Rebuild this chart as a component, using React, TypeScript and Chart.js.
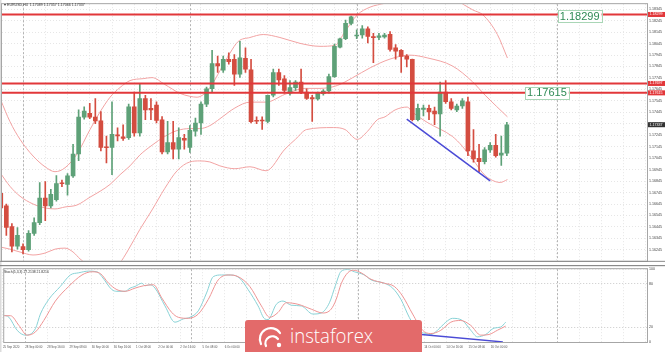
import React, { useEffect, useRef } from 'react';
import { Chart, registerables } from 'chart.js';

Chart.register(...registerables);
Chart.defaults.font.family = '"Liberation Sans", Arial, sans-serif';

// ---------------- data ----------------
const titleText = 'EURUSD,H4  1.17089 1.17357 1.17066 1.17337';
const stochTitle = 'Stoch(5,3,3) 27.2138 21.8216';

const dateLabels = [
  '25 Sep 2020', '28 Sep 00:00', '28 Sep 16:00', '29 Sep 08:00', '30 Sep 00:00', '30 Sep 16:00',
  '1 Oct 08:00', '2 Oct 00:00', '2 Oct 16:00', '5 Oct 08:00', '6 Oct 00:00', '6 Oct 16:00',
  '7 Oct 08:00', '8 Oct 00:00', '8 Oct 16:00', '9 Oct 08:00', '12 Oct 00:00', '12 Oct 16:00',
  '13 Oct 08:00', '14 Oct 00:00', '14 Oct 16:00', '15 Oct 08:00', '16 Oct 00:00',
];
const labelBars = [0, 4, 8, 12, 16, 20, 24, 28, 32, 36, 40, 44, 48, 52, 56, 60, 64, 68, 72, 76, 80, 84, 88];
const gridBars = [0, 4, 8, 12, 16, 20, 24, 28, 32, 36, 40, 44, 48, 52, 56, 60, 64, 68, 72, 76, 80, 84, 88, 92, 96, 100, 104, 108, 112, 116];
const weekSeparators = [4, 34, 64, 100];

const opens = [
  1.16739, 1.16628, 1.16448, 1.16277, 1.16273, 1.16247, 1.16388, 1.16482, 1.16696, 1.16628,
  1.16682, 1.16830, 1.16816, 1.16890, 1.17081, 1.17403, 1.17437, 1.17403, 1.17371, 1.17142,
  1.17138, 1.17248, 1.17232, 1.17224, 1.17494, 1.17266, 1.17566, 1.17480, 1.17508, 1.17380,
  1.17100, 1.17181, 1.17124, 1.17218, 1.17138, 1.17280, 1.17352, 1.17517, 1.17651, 1.17870,
  1.17814, 1.17908, 1.17908, 1.17779, 1.17916, 1.17816, 1.17376, 1.17377, 1.17366, 1.17594,
  1.17793, 1.17737, 1.17613, 1.17660, 1.17708, 1.17622, 1.17574, 1.17562, 1.17608, 1.17631,
  1.17756, 1.18013, 1.18087, 1.18221, 1.18111, 1.18121, 1.18173, 1.18107, 1.18098, 1.18103,
  1.18126, 1.18007, 1.17987, 1.17936, 1.17908, 1.17380, 1.17470, 1.17480, 1.17457, 1.17431,
  1.17622, 1.17537, 1.17466, 1.17500, 1.17537, 1.17109, 1.17044, 1.17015, 1.17118, 1.17158,
  1.17072, 1.17089,
];
const highs = [
  1.16764, 1.16645, 1.16474, 1.16440, 1.16298, 1.16414, 1.16525, 1.16833, 1.16841, 1.16773,
  1.16893, 1.16853, 1.16910, 1.17166, 1.17466, 1.17494, 1.17523, 1.17566, 1.17451, 1.17237,
  1.17537, 1.17309, 1.17337, 1.17517, 1.17622, 1.17694, 1.17594, 1.17566, 1.17537, 1.17408,
  1.17366, 1.17366, 1.17309, 1.17252, 1.17329, 1.17395, 1.17537, 1.17665, 1.17985, 1.17936,
  1.17936, 1.17964, 1.17950, 1.18064, 1.18007, 1.17908, 1.17406, 1.17406, 1.17596, 1.17822,
  1.17822, 1.17765, 1.17722, 1.17722, 1.17822, 1.17651, 1.17594, 1.17622, 1.17643, 1.17779,
  1.18041, 1.18092, 1.18250, 1.18286, 1.18164, 1.18201, 1.18192, 1.18135, 1.18135, 1.18135,
  1.18150, 1.18036, 1.17993, 1.17950, 1.17910, 1.17517, 1.17508, 1.17508, 1.17491, 1.17708,
  1.17722, 1.17566, 1.17517, 1.17566, 1.17579, 1.17295, 1.17166, 1.17138, 1.17181, 1.17252,
  1.17237, 1.17357,
];
const lows = [
  1.16585, 1.16371, 1.16226, 1.16251, 1.16209, 1.16234, 1.16371, 1.16465, 1.16499, 1.16611,
  1.16670, 1.16796, 1.16722, 1.16876, 1.17024, 1.17386, 1.17389, 1.17346, 1.17109, 1.17004,
  1.16901, 1.17195, 1.17200, 1.17209, 1.17237, 1.17237, 1.17380, 1.17380, 1.17352, 1.17081,
  1.17081, 1.17038, 1.17038, 1.17124, 1.17095, 1.17237, 1.17252, 1.17494, 1.17622, 1.17793,
  1.17793, 1.17865, 1.17679, 1.17750, 1.17793, 1.17352, 1.17346, 1.17295, 1.17352, 1.17579,
  1.17679, 1.17613, 1.17594, 1.17637, 1.17608, 1.17557, 1.17366, 1.17551, 1.17594, 1.17613,
  1.17750, 1.18007, 1.18079, 1.18207, 1.18087, 1.18092, 1.18050, 1.17879, 1.18079, 1.18092,
  1.17979, 1.17908, 1.17793, 1.17842, 1.17371, 1.17371, 1.17414, 1.17380, 1.17337, 1.17237,
  1.17523, 1.17466, 1.17451, 1.17480, 1.17066, 1.17010, 1.16927, 1.16995, 1.17095, 1.17053,
  1.16981, 1.17066,
];
const closes = [
  1.16610, 1.16440, 1.16277, 1.16371, 1.16247, 1.16388, 1.16482, 1.16696, 1.16628, 1.16730,
  1.16824, 1.16822, 1.16890, 1.17081, 1.17403, 1.17457, 1.17403, 1.17371, 1.17138, 1.17136,
  1.17252, 1.17239, 1.17218, 1.17494, 1.17266, 1.17566, 1.17466, 1.17466, 1.17374, 1.17100,
  1.17181, 1.17124, 1.17224, 1.17203, 1.17289, 1.17352, 1.17517, 1.17651, 1.17870, 1.17850,
  1.17908, 1.17887, 1.17779, 1.17921, 1.17822, 1.17363, 1.17367, 1.17369, 1.17594, 1.17793,
  1.17728, 1.17637, 1.17660, 1.17708, 1.17622, 1.17566, 1.17562, 1.17613, 1.17631, 1.17756,
  1.18021, 1.18087, 1.18221, 1.18278, 1.18120, 1.18173, 1.18107, 1.18097, 1.18113, 1.18120,
  1.17993, 1.17979, 1.17932, 1.17908, 1.17380, 1.17480, 1.17483, 1.17448, 1.17431, 1.17622,
  1.17537, 1.17480, 1.17500, 1.17545, 1.17109, 1.17038, 1.17015, 1.17118, 1.17158, 1.17066,
  1.17089, 1.17337,
];

const priceTicks = [
  1.18345, 1.18245, 1.18145, 1.18045, 1.17945, 1.17845, 1.17745, 1.17645, 1.17545, 1.17445, 1.17345,
  1.17245, 1.17145, 1.17045, 1.16945, 1.16845, 1.16745, 1.16645, 1.16545, 1.16445, 1.16345, 1.16245,
];
const priceMin = 1.16149;
const priceMax = 1.18389;

const hLines = [1.18299, 1.17697, 1.17615];
const hLineNotes = [
  { text: '1.18299', bar: 104.1, price: 1.18282 },
  { text: '1.17615', bar: 98.2, price: 1.17617 },
];

const bbUpper = [
  [0, 1.17551], [1.66, 1.17363], [3.46, 1.17209], [5.8, 1.17064], [7.96, 1.1697], [9.75, 1.16927],
  [11.55, 1.16961], [13.7, 1.17081], [16.05, 1.17295], [17.85, 1.17448], [19.65, 1.17577], [21.45, 1.17662],
  [23.24, 1.17722], [25.6, 1.17739], [27.2, 1.17748], [29.5, 1.17688], [32.2, 1.17611], [34.0, 1.17585],
  [35.3, 1.17577], [36.7, 1.17611], [38.0, 1.17688], [39.4, 1.17808], [41.2, 1.17961], [42.7, 1.18064],
  [44.8, 1.18098], [47.2, 1.18124], [50.2, 1.18098], [53.8, 1.18047], [57.4, 1.18021], [60.1, 1.1803],
  [61.9, 1.1815], [64.1, 1.18295], [66.4, 1.18363], [69.1, 1.18397], [71.8, 1.18432], [75.4, 1.18483],
  [79.0, 1.18474], [81.7, 1.18423], [83.1, 1.18389], [84.9, 1.18338], [86.7, 1.18295], [89.3, 1.18124],
  [91.1, 1.17919],
];
const bbMiddle = [
  [0, 1.1691], [1.66, 1.16799], [3.46, 1.16713], [5.8, 1.16645], [7.96, 1.16611], [9.75, 1.16602],
  [11.55, 1.16619], [13.7, 1.16636], [16.05, 1.16705], [17.85, 1.16756], [19.65, 1.16816], [21.45, 1.16901],
  [23.24, 1.16978], [25.0, 1.17072], [27.2, 1.17158], [29.5, 1.17235], [31.7, 1.17286], [34.0, 1.17303],
  [35.8, 1.17303], [37.6, 1.17329], [39.4, 1.17389], [42.1, 1.17483], [44.8, 1.17534], [47.7, 1.17534],
  [51.1, 1.17602], [54.7, 1.17654], [57.4, 1.17654], [60.5, 1.17679], [63.3, 1.17748], [66.4, 1.17833],
  [70.0, 1.1791], [73.6, 1.17944], [76.8, 1.17919], [81.2, 1.1785], [84.8, 1.17713], [87.1, 1.17594],
  [91.1, 1.17406],
];
const bbLower = [
  [0, 1.16269], [1.66, 1.16251], [3.46, 1.16226], [5.8, 1.162], [7.96, 1.16217], [9.75, 1.16251],
  [11.55, 1.1626], [13.0, 1.16226], [14.25, 1.16166], [16.05, 1.16098], [17.85, 1.16046], [19.65, 1.16046],
  [21.45, 1.16132], [22.7, 1.16226], [25.0, 1.16422], [27.2, 1.16593], [29.5, 1.16782], [31.7, 1.16935],
  [34.0, 1.17012], [35.8, 1.17021], [37.6, 1.17012], [39.4, 1.16978], [42.1, 1.16953], [44.8, 1.1697],
  [47.7, 1.16935], [51.1, 1.17124], [53.0, 1.1721], [55.0, 1.17295], [59.8, 1.17312], [61.9, 1.17295],
  [64.1, 1.17209], [65.9, 1.17277], [67.7, 1.1738], [69.1, 1.17406], [70.9, 1.17466], [73.1, 1.17491],
  [74.0, 1.17448], [76.8, 1.17354], [81.2, 1.17235], [83.0, 1.17149], [84.8, 1.17038], [87.1, 1.16893],
  [88.9, 1.16841], [89.8, 1.16833], [91.1, 1.16858],
];

const trendMain = [[73.0, 1.17386], [88.0, 1.16847]];

const stochK = [
  [0, 37], [1.07, 34], [2.56, 16], [4.05, 9.4], [5.85, 18.3], [6.75, 38.4], [8.26, 58.5], [10.35, 76.3],
  [12.15, 92], [13.66, 95], [15.46, 97.3], [16.95, 96.4], [17.85, 89.7], [19.65, 71.9], [20.55, 69.6],
  [22.04, 69.6], [22.94, 74], [23.84, 76.3], [25.04, 80.7], [25.64, 77.2], [26.54, 78.6], [27.43, 74],
  [29.23, 49.5], [31.03, 27.2], [32.54, 31.7], [33.73, 33.9], [35.24, 42.8], [36.73, 67.3], [37.94, 89.7],
  [39.43, 92], [41.23, 92], [42.72, 87.4], [44.23, 71.9], [46.03, 49.5], [47.22, 31.7], [47.83, 30.8],
  [49.32, 51.8], [50.53, 56.2], [52.02, 50.5], [53.82, 49.5], [55.92, 38.4], [57.42, 39.8], [58.9, 53.9],
  [60.0, 78], [61.0, 97], [62.2, 99.5], [63.41, 96.4], [65.21, 92], [66.41, 85.3], [68.8, 80.7],
  [70.31, 74], [71.8, 58.5], [73.3, 33.9], [74.8, 16.1], [76.3, 11.6], [77.2, 10.3], [78.4, 16.1],
  [79.9, 27.2], [81.1, 32.5], [82.9, 29.5], [84.4, 16.1], [85.6, 7.1], [87.1, 10.3], [88.6, 19.1],
  [89.8, 20.5], [90.7, 27.2],
];
const stochD = [
  [0, 36.1], [1.36, 36.1], [2.87, 22.8], [4.36, 9.4], [5.85, 13.8], [7.36, 29.5], [9.45, 56.2],
  [11.86, 76.3], [14.25, 92], [16.05, 96.4], [17.54, 94.1], [19.05, 80.7], [20.55, 71.9], [22.04, 69.6],
  [23.84, 74], [25.35, 77.2], [27.15, 78.6], [28.64, 60.6], [30.44, 40.6], [31.64, 33.9], [33.44, 32.5],
  [35.24, 38.4], [37.04, 58.5], [38.84, 85.3], [40.63, 92], [42.43, 89.7], [44.52, 76.3], [46.63, 49.5],
  [48.12, 33.9], [49.63, 40.6], [51.12, 53.9], [53.22, 51.8], [55.62, 45.1], [57.72, 39.8], [59.21, 45.1],
  [60.12, 58.5], [61.02, 80], [62.2, 95], [63.3, 98.5], [64.61, 95], [66.41, 86.1], [68.8, 80.7],
  [70.6, 76.3], [72.11, 62.9], [73.91, 38.4], [75.71, 16.1], [77.2, 11.6], [79.0, 16.1], [80.8, 27.2],
  [82.6, 29.5], [84.4, 22.8], [86.2, 9.4], [87.7, 10.3], [89.2, 16.1], [90.7, 21.8],
];
const stochTicks = [0, 20, 80, 100];
const trendStoch = [[74.5, 11], [90.2, 0]];

// ---------------- styles ----------------
const X_MIN = 0.22;
const X_MAX = 116.2;
const UP = '#5ea178';
const DOWN = '#d44d40';
const HLINE = '#e2373a';
const BB = '#f2a3a3';
const TREND = '#4b4bd6';
const GRID = '#e6e6e6';
const FRAME = '#a6a6a6';
const AXIS_W = 18;

const pts = (arr: number[][]) => arr.map(([x, y]) => ({ x, y }));

const lineDs = (data: any[], color: string, width: number, order: number, smooth = true) => ({
  type: 'line',
  data,
  borderColor: color,
  backgroundColor: color,
  borderWidth: width,
  pointRadius: 0,
  fill: false,
  order,
  cubicInterpolationMode: smooth ? 'monotone' : 'default',
  tension: 0,
});

const tinyFont = (size: number) => `${size}px "Liberation Sans", Arial, sans-serif`;

const xScale = (withLabels: boolean) => ({
  type: 'linear',
  min: X_MIN,
  max: X_MAX,
  offset: false,
  afterBuildTicks: (s: any) => {
    s.ticks = gridBars.map((v) => ({ value: v }));
  },
  afterFit: (s: any) => {
    s.height = withLabels ? 10 : 0;
  },
  ticks: {
    display: withLabels,
    autoSkip: false,
    maxRotation: 0,
    minRotation: 0,
    align: 'start',
    padding: 3,
    color: '#555',
    font: { size: 2.9 },
    callback: (v: number) => {
      const k = labelBars.indexOf(v);
      return k >= 0 ? dateLabels[k] : '';
    },
  },
  grid: { color: GRID, drawTicks: false, offset: false, lineWidth: 1 },
  border: { display: false, dash: [1, 2] },
});

const drawSeparators = (chart: any) => {
  const { ctx, chartArea: a, scales } = chart;
  ctx.save();
  ctx.strokeStyle = '#b4b4b4';
  ctx.lineWidth = 1;
  ctx.setLineDash([2, 2]);
  weekSeparators.forEach((b) => {
    const px = Math.round(scales.x.getPixelForValue(b)) + 0.5;
    ctx.beginPath();
    ctx.moveTo(px, a.top);
    ctx.lineTo(px, a.bottom);
    ctx.stroke();
  });
  ctx.restore();
};

const mainPlugin = {
  id: 'mainDecor',
  beforeDatasetsDraw(chart: any) {
    drawSeparators(chart);
  },
  afterDraw(chart: any) {
    const { ctx, chartArea: a, scales } = chart;
    const y = scales.y;
    const x = scales.x;
    ctx.save();
    ctx.fillStyle = '#dcdcdc';
    ctx.fillRect(0, 0, 1.5, chart.height);
    ctx.strokeStyle = FRAME;
    ctx.lineWidth = 1;
    ctx.strokeRect(a.left - 0.5, a.top - 0.5, a.right - a.left + 1, a.bottom - a.top + 1);
    ctx.fillStyle = '#8a8a8a';
    ctx.fillRect(0, a.bottom, chart.width, 1);
    ctx.fillStyle = '#333';
    ctx.font = tinyFont(3.6);
    ctx.textBaseline = 'middle';
    ctx.textAlign = 'left';
    ctx.fillText('\u25BE ' + titleText, 4, 4.5);
    hLines.forEach((p) => {
      const py = y.getPixelForValue(p);
      ctx.fillStyle = HLINE;
      ctx.fillRect(a.right + 1, py - 2.5, AXIS_W - 1, 5);
      ctx.fillStyle = '#fff';
      ctx.font = tinyFont(3.6);
      ctx.fillText(p.toFixed(5), a.right + 2.5, py);
    });
    const last = closes[closes.length - 1];
    const cy = y.getPixelForValue(last);
    ctx.fillStyle = '#333';
    ctx.fillRect(a.right + 1, cy - 2.5, AXIS_W - 1, 5);
    ctx.fillStyle = '#fff';
    ctx.fillText(last.toFixed(5), a.right + 2.5, cy);
    ctx.font = tinyFont(11);
    hLineNotes.forEach((n) => {
      const cx = x.getPixelForValue(n.bar);
      const ny = y.getPixelForValue(n.price);
      const w = ctx.measureText(n.text).width + 4;
      const h = 12;
      ctx.fillStyle = '#ffffff';
      ctx.fillRect(cx - w / 2, ny - h / 2, w, h);
      ctx.strokeStyle = '#a9d6b6';
      ctx.lineWidth = 1;
      ctx.strokeRect(Math.round(cx - w / 2) + 0.5, Math.round(ny - h / 2) + 0.5, Math.round(w), h);
      ctx.fillStyle = '#2f8a55';
      ctx.textAlign = 'center';
      ctx.fillText(n.text, cx, ny + 0.5);
      ctx.textAlign = 'left';
    });
    ctx.restore();
  },
};

const stochPlugin = {
  id: 'stochDecor',
  beforeDatasetsDraw(chart: any) {
    drawSeparators(chart);
  },
  afterDraw(chart: any) {
    const { ctx, chartArea: a } = chart;
    ctx.save();
    ctx.fillStyle = '#dcdcdc';
    ctx.fillRect(0, 0, 1.5, chart.height);
    ctx.fillStyle = '#8a8a8a';
    ctx.fillRect(0, 0, chart.width, 1.2);
    ctx.strokeStyle = FRAME;
    ctx.lineWidth = 1;
    ctx.strokeRect(a.left - 0.5, a.top - 0.5, a.right - a.left + 1, a.bottom - a.top + 1);
    ctx.fillStyle = '#333';
    ctx.font = tinyFont(3.4);
    ctx.textBaseline = 'middle';
    ctx.fillText(stochTitle, 4, a.top + 2.5);
    ctx.restore();
  },
};

function mainConfig(): any {
  const colors = opens.map((o, i) => (closes[i] >= o ? UP : DOWN));
  return {
    type: 'bar',
    data: {
      datasets: [
        lineDs(pts(trendMain), TREND, 1.5, 1, false),
        ...hLines.map((p) =>
          lineDs(
            [
              { x: X_MIN, y: p },
              { x: X_MAX, y: p },
            ],
            HLINE,
            2,
            2,
            false
          )
        ),
        {
          type: 'bar',
          data: opens.map((o, i) => ({ x: i, y: [o, closes[i]] })),
          backgroundColor: colors,
          borderWidth: 0,
          barThickness: 4,
          minBarLength: 1,
          grouped: false,
          order: 4,
        },
        {
          type: 'bar',
          data: opens.map((_, i) => ({ x: i, y: [lows[i], highs[i]] })),
          backgroundColor: colors,
          borderWidth: 0,
          barThickness: 1,
          grouped: false,
          order: 5,
        },
        lineDs(pts(bbUpper), BB, 1, 10),
        lineDs(pts(bbMiddle), BB, 1, 10),
        lineDs(pts(bbLower), BB, 1, 10),
      ],
    },
    options: {
      responsive: false,
      animation: false,
      events: [],
      layout: { padding: { left: 2, top: 2, right: 0, bottom: 1 } },
      plugins: { legend: { display: false }, tooltip: { enabled: false } },
      scales: {
        x: xScale(false),
        y: {
          type: 'linear',
          position: 'right',
          min: priceMin,
          max: priceMax,
          beginAtZero: false,
          afterBuildTicks: (s: any) => {
            s.ticks = priceTicks.map((v) => ({ value: v }));
          },
          afterFit: (s: any) => {
            s.width = AXIS_W;
          },
          ticks: {
            font: { size: 3.6 },
            color: '#444',
            padding: 2,
            callback: (v: number) => v.toFixed(5),
          },
          grid: { color: GRID, drawTicks: false },
          border: { display: false, dash: [1, 2] },
        },
      },
    },
    plugins: [mainPlugin],
  };
}

function stochConfig(): any {
  return {
    type: 'line',
    data: {
      datasets: [
        lineDs(pts(trendStoch), TREND, 1.3, 1, false),
        lineDs(pts(stochK), '#89d2d6', 1, 3),
        lineDs(pts(stochD), '#ee9595', 1, 2),
      ],
    },
    options: {
      responsive: false,
      animation: false,
      events: [],
      layout: { padding: { left: 2, top: 2, right: 0, bottom: 0 } },
      plugins: { legend: { display: false }, tooltip: { enabled: false } },
      scales: {
        x: xScale(true),
        y: {
          type: 'linear',
          position: 'right',
          min: 0,
          max: 100,
          afterBuildTicks: (s: any) => {
            s.ticks = stochTicks.map((v) => ({ value: v }));
          },
          afterFit: (s: any) => {
            s.width = AXIS_W;
          },
          ticks: { font: { size: 3.6 }, color: '#444', padding: 2 },
          grid: {
            color: (c: any) => (c.tick && (c.tick.value === 20 || c.tick.value === 80) ? '#c9c9c9' : GRID),
            drawTicks: false,
          },
          border: { display: false, dash: [1, 2] },
        },
      },
    },
    plugins: [stochPlugin],
  };
}

export default function App() {
  const mainRef = useRef<HTMLCanvasElement>(null);
  const stochRef = useRef<HTMLCanvasElement>(null);

  useEffect(() => {
    const c1 = new Chart(mainRef.current as HTMLCanvasElement, mainConfig());
    const c2 = new Chart(stochRef.current as HTMLCanvasElement, stochConfig());
    return () => {
      c1.destroy();
      c2.destroy();
    };
  }, []);

  return (
    <div
      style={{
        position: 'absolute',
        left: 0,
        top: 0,
        width: 665,
        height: 352,
        background: '#ffffff',
        overflow: 'hidden',
      }}
    >
      <canvas
        ref={mainRef}
        width={665}
        height={265}
        style={{ position: 'absolute', left: 0, top: 0, width: 665, height: 265, display: 'block' }}
      />
      <canvas
        ref={stochRef}
        width={665}
        height={87}
        style={{ position: 'absolute', left: 0, top: 265, width: 665, height: 87, display: 'block' }}
      />
      <div
        style={{
          position: 'absolute',
          left: 245,
          top: 320,
          width: 177,
          height: 32,
          background: '#e36a6a',
          borderTopLeftRadius: 3,
          borderTopRightRadius: 3,
        }}
      >
        <svg
          width="28"
          height="24"
          viewBox="0 0 28 24"
          style={{ position: 'absolute', left: 12, top: 5 }}
        >
          <path d="M4 19 A11 11 0 0 1 23 8" stroke="#fff" strokeWidth="2.2" fill="none" strokeLinecap="round" />
          <path d="M9 21 A7 7 0 0 1 21 14" stroke="#fff" strokeWidth="2.2" fill="none" strokeLinecap="round" />
          <circle cx="22" cy="20" r="2.2" fill="#fff" />
        </svg>
        <span
          style={{
            position: 'absolute',
            left: 45,
            top: 5.5,
            color: '#ffffff',
            fontFamily: '"Open Sans", sans-serif',
            fontWeight: 300,
            fontSize: 20,
            lineHeight: '20px',
            whiteSpace: 'nowrap',
            transform: 'scaleX(0.93)',
            transformOrigin: 'left center',
          }}
        >
          instaforex
        </span>
      </div>
    </div>
  );
}
